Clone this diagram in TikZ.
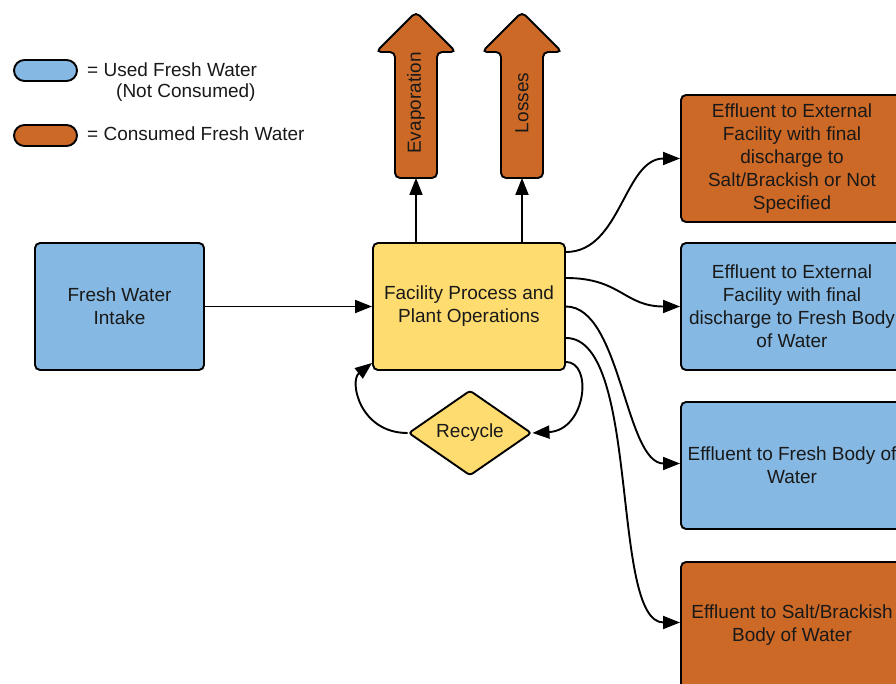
\documentclass[tikz,border=0pt]{standalone}
\usepackage{fontspec}
\setmainfont{Liberation Sans}
\usetikzlibrary{arrows.meta,shapes.geometric}
\definecolor{wblue}{RGB}{133,185,227}
\definecolor{worange}{RGB}{205,105,38}
\definecolor{wyellow}{RGB}{255,220,112}
\definecolor{wtext}{RGB}{25,25,25}
\begin{document}
\begin{tikzpicture}[x=1pt,y=-1pt,
  every node/.style={font=\fontsize{19}{23}\selectfont, text=wtext},
  box/.style={draw=black, line width=1.9pt, rounded corners=5pt, align=center, inner sep=2pt},
  bluebox/.style={box, fill=wblue},
  orangebox/.style={box, fill=worange},
  yellowbox/.style={box, fill=wyellow},
  pill/.style={draw=black, line width=1.9pt, rounded corners=10.5pt, minimum width=63pt, minimum height=21pt, inner sep=0pt},
  conn/.style={draw=black, line width=1.9pt, -{Triangle[length=17pt,width=13pt]}},
  uparrow/.style={draw=black, line width=1.9pt, fill=worange, rounded corners=5pt}
]
\useasboundingbox (0,0) rectangle (896,684);
\clip (0,0) rectangle (896,684);

% legend
\node[pill, fill=wblue] (leg1) at (45.5,70.5) {};
\node[pill, fill=worange] (leg2) at (45.5,135.5) {};
\node[anchor=west, inner sep=0pt] (leg1t) at (87,70) {= Used Fresh Water};
\node[anchor=west, inner sep=0pt] (leg1u) at (116,93) {(Not Consumed)};
\node[anchor=west, inner sep=0pt] (leg2t) at (87,134) {= Consumed Fresh Water};

% main boxes
\node[bluebox, minimum width=169pt, minimum height=127pt] (fwi) at (119.5,306.5) {Fresh Water\\Intake};
\node[yellowbox, minimum width=192pt, minimum height=127pt] (fac) at (469,306.5) {Facility Process and\\Plant Operations};

% right boxes
\node[orangebox, minimum width=222pt, minimum height=127pt] (b1) at (792,158.5) {Effluent to External\\Facility with final\\discharge to\\Salt/Brackish or Not\\Specified};
\node[bluebox, minimum width=222pt, minimum height=127pt] (b2) at (792,306.5) {Effluent to External\\Facility with final\\discharge to Fresh Body\\of Water};
\node[bluebox, minimum width=222pt, minimum height=127pt] (b3) at (792,465.5) {Effluent to Fresh Body of\\Water};
\node[orangebox, minimum width=222pt, minimum height=127pt] (b4) at (792,625.5) {Effluent to Salt/Brackish\\Body of Water};

% recycle diamond
\node[diamond, draw=black, line width=1.9pt, fill=wyellow, rounded corners=3pt, minimum width=123pt, minimum height=82pt, inner sep=0pt] (rec) at (470,433) {Recycle};

% up arrows
\path[uparrow] (395,178) -- (395,52) -- (376,52) -- (416,12) -- (456,52) -- (437,52) -- (437,178) -- cycle;
\node[rotate=90] (evap) at (416,103) {Evaporation};
\coordinate (evapb) at (416,178);
\path[uparrow] (501,178) -- (501,52) -- (482,52) -- (522,12) -- (562,52) -- (543,52) -- (543,178) -- cycle;
\node[rotate=90] (loss) at (522,103) {Losses};
\coordinate (lossb) at (522,178);

% connectors
\draw[conn] (fwi.east) -- (fac.west);
\draw[conn] (fac.north -| evapb) -- (evapb);
\draw[conn] (fac.north -| lossb) -- (lossb);

\draw[conn] ([yshift=54.5pt]fac.east) .. controls +(55,0) and +(-56,0) .. (b1.west);
\draw[conn] ([yshift=28.5pt]fac.east) .. controls +(55,0) and +(-56,0) .. (b2.west);
\draw[conn] (fac.east) .. controls +(55,0) and +(-55,0) .. ([yshift=2pt]b3.west);
\draw[conn] ([yshift=-31.5pt]fac.east) .. controls +(75,0) and +(-70,0) .. ([yshift=3pt]b4.west);

\draw[conn] ([yshift=9pt]fac.south east) .. controls +(27,0) and +(54,-3) .. (rec.east);
\draw[conn] (rec.west) .. controls +(-48,0) and +(-23,18) .. ([yshift=8pt]fac.south west);
\end{tikzpicture}
\end{document}
